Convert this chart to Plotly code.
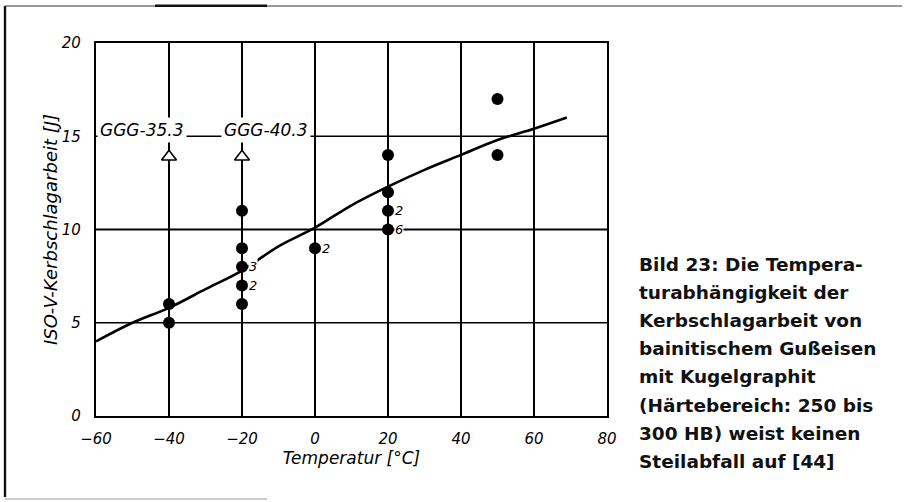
import plotly.graph_objects as go

# ---------------- data ----------------
temps = [-40, -40, -20, -20, -20, -20, -20, 0, 20, 20, 20, 20, 50, 50]
energy = [6, 5, 11, 9, 8, 7, 6, 9, 14, 12, 11, 10, 17, 14]

count_x = [-20, -20, 0, 20, 20]
count_y = [8, 7, 9, 11, 10]
count_txt = ["3", "2", "2", "2", "6"]

curve_x = [-60, -50, -40, -30, -20, -10, 0, 10, 20, 30, 40, 50, 60, 69]
curve_y = [4.0, 5.0, 5.8, 6.8, 7.8, 9.1, 10.1, 11.3, 12.3, 13.2, 14.0, 14.8, 15.4, 16.0]

grade_names = ["GGG-35.3", "GGG-40.3"]
grade_x = [-40, -20]
grade_label_y = 15
grade_marker_y = 13.9

grid_x = [-40, -20, 0, 20, 40, 60]
grid_y = [5, 10, 15]

x_ticks = [-60, -40, -20, 0, 20, 40, 60, 80]
y_ticks = [0, 5, 10, 15, 20]

caption_lines = [
    "Bild 23: Die Tempera-",
    "turabhängigkeit der",
    "Kerbschlagarbeit von",
    "bainitischem Gußeisen",
    "mit Kugelgraphit",
    "(Härtebereich: 250 bis",
    "300 HB) weist keinen",
    "Steilabfall auf [44]",
]

# ---------------- layout geometry ----------------
W, H = 907, 502
L, R, T, B = 96, 607, 43, 416  # plot area in px


def px(xpix):
    return xpix / W


def py(ypix):
    return (H - ypix) / H


AX_FONT = "DejaVu Sans"
fig = go.Figure()

# curve
fig.add_trace(go.Scatter(x=curve_x, y=curve_y, mode="lines",
                         line=dict(color="black", width=2.6, shape="spline"),
                         hoverinfo="skip", showlegend=False))
# measured points
fig.add_trace(go.Scatter(x=temps, y=energy, mode="markers",
                         marker=dict(color="black", size=12, line=dict(width=0)),
                         showlegend=False))
# grade triangles
fig.add_trace(go.Scatter(x=grade_x, y=[grade_marker_y] * len(grade_x), mode="markers",
                         marker=dict(symbol="triangle-up", color="white", size=13,
                                     line=dict(color="black", width=1.6)),
                         showlegend=False))

shapes = []
for gx in grid_x:
    shapes.append(dict(type="line", xref="x", yref="y", x0=gx, x1=gx, y0=0, y1=20,
                       line=dict(color="black", width=2), layer="below"))
for gy in grid_y:
    shapes.append(dict(type="line", xref="x", yref="y", x0=-60, x1=80, y0=gy, y1=gy,
                       line=dict(color="black", width=2 if gy == 10 else 1.3), layer="below"))

# outer page frame (decoration, paper coordinates = whole figure)
shapes.append(dict(type="line", xref="paper", yref="paper", x0=px(5), x1=px(5),
                   y0=py(497), y1=py(6), line=dict(color="#111", width=2.4)))
shapes.append(dict(type="line", xref="paper", yref="paper", x0=px(5), x1=px(902),
                   y0=py(6), y1=py(6), line=dict(color="#333", width=1.2)))
shapes.append(dict(type="line", xref="paper", yref="paper", x0=px(155), x1=px(267),
                   y0=py(5.8), y1=py(5.8), line=dict(color="#111", width=2.4)))
shapes.append(dict(type="line", xref="paper", yref="paper", x0=px(5), x1=px(267),
                   y0=py(499), y1=py(499), line=dict(color="#bbb", width=1.5)))

annotations = []
# grade labels
shifts = [-27, 24]
for name, gx, sh in zip(grade_names, grade_x, shifts):
    annotations.append(dict(x=gx, y=grade_label_y, xref="x", yref="y", text=name,
                            showarrow=False, xshift=sh, yshift=6, bgcolor="white", borderpad=2,
                            font=dict(family=AX_FONT, size=17, color="black", style="italic")))
# counts
for cx, cy, ct in zip(count_x, count_y, count_txt):
    annotations.append(dict(x=cx, y=cy, xref="x", yref="y", text=ct, showarrow=False,
                            xanchor="left", xshift=6, bgcolor="white", borderpad=0,
                            font=dict(family=AX_FONT, size=13, color="black", style="italic")))
# caption
for i, line in enumerate(caption_lines):
    annotations.append(dict(x=px(637), y=py(264 + i * 28.2), xref="paper", yref="paper",
                            text=line, showarrow=False, xanchor="left", yanchor="middle",
                            font=dict(family="DejaVu Sans", size=18.5, color="#111", weight="bold")))

fig.update_layout(
    width=W, height=H,
    margin=dict(l=0, r=0, t=0, b=0, autoexpand=False),
    paper_bgcolor="white", plot_bgcolor="white",
    shapes=shapes, annotations=annotations,
    showlegend=False,
    font=dict(family=AX_FONT, color="black"),
)
fig.update_xaxes(domain=[L / W, R / W], automargin=False,
                 range=[-60, 80], tickvals=x_ticks, showgrid=False, zeroline=False,
                 showline=True, linecolor="black", linewidth=2.2, mirror=True,
                 ticks="", ticklabelstandoff=8,
                 tickfont=dict(family=AX_FONT, size=15, style="italic"),
                 title=dict(text="Temperatur [°C]", standoff=3,
                            font=dict(family=AX_FONT, size=17, style="italic")))
fig.update_yaxes(domain=[(H - B) / H, (H - T) / H], automargin=False,
                 range=[0, 20], tickvals=y_ticks, showgrid=False, zeroline=False,
                 showline=True, linecolor="black", linewidth=2.2, mirror=True,
                 ticks="", ticklabelstandoff=10,
                 tickfont=dict(family=AX_FONT, size=15, style="italic"),
                 title=dict(text="ISO-V-Kerbschlagarbeit [J]", standoff=0,
                            font=dict(family=AX_FONT, size=18, style="italic")))

fig.write_html("out.html")
